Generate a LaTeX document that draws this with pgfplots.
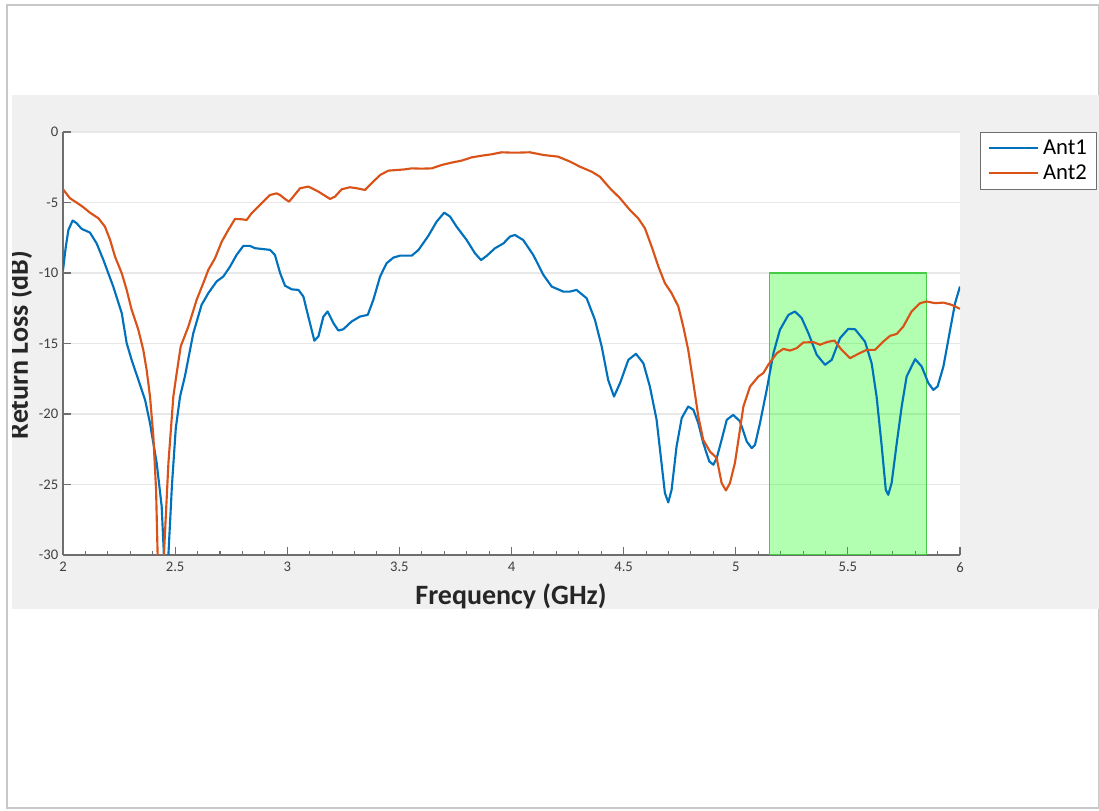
\documentclass[border=0pt]{standalone}
\usepackage{fontspec}
\setmainfont{Carlito}
\usepackage{pgfplots}
\pgfplotsset{compat=1.18}

\definecolor{antblue}{RGB}{0,114,189}
\definecolor{antorange}{RGB}{217,83,25}
\definecolor{panel}{RGB}{240,240,240}
\definecolor{axisgray}{RGB}{110,110,110}
\definecolor{labelgray}{RGB}{64,64,64}
\definecolor{gridgray}{RGB}{232,232,232}
\definecolor{bandedge}{RGB}{70,205,70}
\definecolor{framegray}{RGB}{200,200,200}

\begin{document}
\begin{tikzpicture}[x=0.75pt,y=0.75pt]
% page, frame and grey panel (1 unit = 1 px of the reference, y upwards)
\fill[white] (0,0) rectangle (1099,810);
\draw[framegray, line width=1pt] (7,2) rectangle (1098.5,805);
\begin{scope}
\clip (12,201) rectangle (1099,715);
\fill[panel] (12,201) rectangle (1099,715);

\begin{axis}[
  at={(47.25pt,191.25pt)}, anchor=south west,
  width=672.75pt, height=317.25pt, scale only axis,
  xmin=2, xmax=6, ymin=-30, ymax=0,
  xtick={2,2.5,...,6}, ytick={-30,-25,...,0},
  minor x tick num=4,
  axis x line*=bottom, axis y line*=left,
  axis line style={-, draw=axisgray, line width=1pt},
  tick align=inside, major tick length=6pt, minor tick length=3pt,
  tick style={draw=axisgray, line width=0.8pt},
  ymajorgrids, major grid style={draw=gridgray, line width=1.3pt},
  axis background/.style={fill=white},
  ticklabel style={font=\fontsize{11}{13}\selectfont, text=labelgray},
  xticklabel style={yshift=-2pt},
  /pgf/number format/assume math mode=true,
  legend style={at={(1.0223,1)}, anchor=north west, draw=axisgray, line width=0.8pt,
    fill=white, font=\fontsize{17}{20}\selectfont, inner xsep=5.25pt, inner ysep=3.6pt,
    row sep=2.25pt, column sep=1pt},
  legend cell align=left,
  legend image code/.code={\draw[#1] (0pt,0pt) -- (37pt,0pt);},
  line join=round,
]
% 5.15-5.85 GHz band
\addplot[forget plot, fill=green, fill opacity=0.3, draw=bandedge, line width=1pt]
  coordinates {(5.15,-30) (5.15,-10) (5.85,-10) (5.85,-30)} -- cycle;

\addplot[antblue, line width=1.6pt] coordinates {
(2.000,-9.8) (2.012,-8.2) (2.024,-6.95) (2.043,-6.28) (2.061,-6.47) (2.083,-6.87)
(2.120,-7.13) (2.150,-7.9) (2.180,-9.07) (2.224,-10.96) (2.262,-12.85) (2.284,-14.98)
(2.306,-16.16) (2.336,-17.58) (2.366,-19.0) (2.388,-20.65) (2.418,-23.5) (2.440,-26.55)
(2.450,-30) (2.460,-32) (2.470,-30) (2.486,-25) (2.503,-21.0) (2.522,-18.76)
(2.544,-17.3) (2.581,-14.27) (2.618,-12.26) (2.648,-11.43) (2.685,-10.6) (2.715,-10.25)
(2.745,-9.54) (2.774,-8.72) (2.804,-8.08) (2.834,-8.08) (2.856,-8.24) (2.923,-8.36)
(2.945,-8.72) (2.968,-10.0) (2.990,-10.9) (3.020,-11.16) (3.050,-11.2) (3.072,-11.67)
(3.094,-13.1) (3.121,-14.8) (3.139,-14.5) (3.161,-13.1) (3.180,-12.73) (3.206,-13.56)
(3.228,-14.08) (3.250,-13.99) (3.287,-13.44) (3.324,-13.09) (3.359,-12.97) (3.384,-11.9)
(3.414,-10.25) (3.443,-9.31) (3.473,-8.91) (3.503,-8.77) (3.555,-8.77) (3.585,-8.37)
(3.629,-7.37) (3.666,-6.36) (3.700,-5.72) (3.726,-6.0) (3.755,-6.71) (3.800,-7.66)
(3.837,-8.6) (3.864,-9.08) (3.889,-8.79) (3.926,-8.25) (3.964,-7.9) (3.993,-7.42)
(4.015,-7.3) (4.052,-7.66) (4.097,-8.72) (4.142,-10.13) (4.179,-10.96) (4.231,-11.32)
(4.260,-11.32) (4.290,-11.2) (4.335,-11.79) (4.372,-13.32) (4.402,-15.2) (4.431,-17.58)
(4.457,-18.76) (4.484,-17.81) (4.521,-16.16) (4.555,-15.73) (4.588,-16.4) (4.617,-18.05)
(4.647,-20.41) (4.669,-23.48) (4.684,-25.6) (4.699,-26.27) (4.714,-25.37) (4.736,-22.3)
(4.759,-20.29) (4.788,-19.47) (4.811,-19.7) (4.833,-20.65) (4.855,-22.06) (4.882,-23.36)
(4.900,-23.6) (4.915,-23.13) (4.937,-21.83) (4.960,-20.41) (4.989,-20.06) (5.019,-20.53)
(5.049,-21.95) (5.071,-22.42) (5.086,-22.18) (5.108,-20.65) (5.138,-18.29) (5.168,-15.69)
(5.197,-14.03) (5.235,-12.97) (5.264,-12.73) (5.294,-13.2) (5.324,-14.27) (5.361,-15.8)
(5.398,-16.51) (5.428,-16.16) (5.465,-14.62) (5.502,-13.96) (5.532,-13.99) (5.576,-14.86)
(5.606,-16.4) (5.628,-18.76) (5.651,-22.3) (5.669,-25.37) (5.680,-25.73) (5.695,-24.9)
(5.718,-22.06) (5.740,-19.47) (5.762,-17.34) (5.800,-16.11) (5.829,-16.63) (5.859,-17.81)
(5.881,-18.29) (5.900,-18.05) (5.926,-16.63) (5.956,-14.03) (5.978,-12.14) (6.000,-10.96)
};
\addlegendentry{Ant1}

\addplot[antorange, line width=1.6pt] coordinates {
(2.000,-4.06) (2.031,-4.7) (2.061,-5.01) (2.091,-5.34) (2.120,-5.72) (2.158,-6.12)
(2.187,-6.71) (2.210,-7.65) (2.232,-8.84) (2.262,-10.02) (2.284,-11.2) (2.306,-12.6)
(2.336,-14.03) (2.358,-15.45) (2.373,-16.87) (2.388,-18.76) (2.403,-21.59) (2.415,-25.37)
(2.422,-30) (2.435,-33) (2.450,-30) (2.470,-23.5) (2.492,-18.76) (2.507,-17.1)
(2.525,-15.2) (2.559,-13.8) (2.596,-11.9) (2.626,-10.7) (2.648,-9.78) (2.678,-8.95)
(2.708,-7.77) (2.737,-6.95) (2.767,-6.17) (2.797,-6.19) (2.819,-6.24) (2.841,-5.76)
(2.878,-5.17) (2.923,-4.47) (2.953,-4.35) (2.968,-4.47) (2.990,-4.75) (3.008,-4.94)
(3.027,-4.58) (3.057,-3.99) (3.094,-3.87) (3.139,-4.23) (3.191,-4.75) (3.213,-4.58)
(3.243,-4.06) (3.280,-3.92) (3.310,-3.99) (3.347,-4.11) (3.376,-3.64) (3.414,-3.05)
(3.451,-2.74) (3.495,-2.69) (3.525,-2.65) (3.555,-2.58) (3.599,-2.6) (3.644,-2.58)
(3.689,-2.34) (3.733,-2.17) (3.778,-2.03) (3.822,-1.8) (3.867,-1.68) (3.912,-1.58)
(3.956,-1.44) (3.993,-1.46) (4.038,-1.46) (4.082,-1.44) (4.142,-1.63) (4.208,-1.75)
(4.261,-2.1) (4.305,-2.46) (4.357,-2.81) (4.394,-3.17) (4.439,-3.99) (4.484,-4.7)
(4.528,-5.53) (4.565,-6.12) (4.595,-6.83) (4.625,-8.13) (4.655,-9.54) (4.684,-10.72)
(4.714,-11.43) (4.744,-12.38) (4.766,-13.8) (4.788,-15.45) (4.811,-17.81) (4.833,-20.17)
(4.855,-21.83) (4.885,-22.66) (4.915,-23.13) (4.937,-24.9) (4.956,-25.42) (4.974,-24.9)
(4.996,-23.5) (5.012,-21.83) (5.034,-19.47) (5.064,-18.05) (5.101,-17.34) (5.123,-17.1)
(5.145,-16.51) (5.183,-15.69) (5.212,-15.38) (5.242,-15.5) (5.272,-15.33) (5.301,-14.93)
(5.346,-14.9) (5.376,-15.09) (5.406,-14.9) (5.440,-14.79) (5.472,-15.45) (5.510,-16.04)
(5.547,-15.73) (5.584,-15.45) (5.621,-15.45) (5.658,-14.86) (5.688,-14.46) (5.718,-14.32)
(5.747,-13.8) (5.784,-12.73) (5.822,-12.14) (5.851,-12.02) (5.889,-12.14) (5.926,-12.1)
(5.963,-12.26) (6.000,-12.54)
};
\addlegendentry{Ant2}
\end{axis}

% axis titles, cut by the panel edges as in the reference
\node[anchor=base, font=\fontsize{21}{23}\selectfont\bfseries, text=black!85]
  at (511,205) {Frequency (GHz)};
\node[rotate=90, anchor=base, font=\fontsize{21}{23}\selectfont\bfseries, text=black!85]
  at (28,465) {Return Loss (dB)};
\end{scope}
\pgfresetboundingbox
\useasboundingbox (0,0) rectangle (1099,810);
\end{tikzpicture}
\end{document}
